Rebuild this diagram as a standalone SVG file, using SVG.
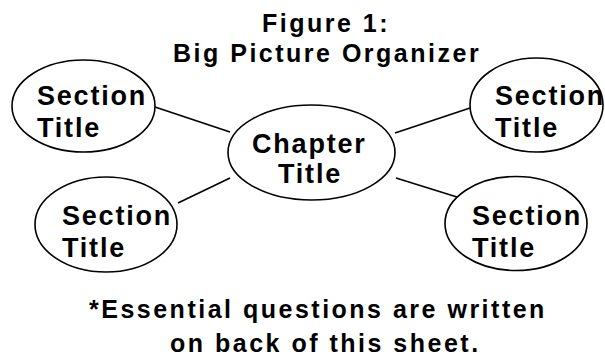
<svg xmlns="http://www.w3.org/2000/svg" width="605" height="357" viewBox="0 0 605 357">
  <style>
    .bubble { fill: #ffffff; stroke: #000000; stroke-width: 1.6; }
    .link { stroke: #000000; stroke-width: 1.6; fill: none; }
    text { font-family: "Liberation Sans", Arial, sans-serif; font-weight: bold; fill: #000000; }
    .head { font-size: 25px; letter-spacing: 2.5px; }
    .label { font-size: 27px; letter-spacing: 1.8px; }
  </style>
  <rect width="605" height="357" fill="#ffffff"/>

  <!-- heading -->
  <g id="heading">
    <text class="head" x="262" y="32">Figure 1:</text>
    <text class="head" x="173" y="62">Big Picture Organizer</text>
  </g>

  <!-- spokes from the chapter bubble to each section bubble -->
  <g id="connectors">
    <line class="link" x1="155" y1="107" x2="230" y2="132"/>
    <line class="link" x1="470" y1="108" x2="395" y2="133"/>
    <line class="link" x1="178" y1="203" x2="230" y2="178"/>
    <line class="link" x1="396" y1="178" x2="457" y2="197"/>
  </g>

  <g id="chapter">
    <ellipse class="bubble" cx="311.5" cy="152.5" rx="83.5" ry="47.5"/>
    <text class="label" x="252" y="153">Chapter</text>
    <text class="label" x="278" y="183">Title</text>
  </g>

  <g id="section-top-left">
    <ellipse class="bubble" cx="83.5" cy="106" rx="71.5" ry="46"/>
    <text class="label" x="37" y="105">Section</text>
    <text class="label" x="37" y="137">Title</text>
  </g>

  <g id="section-top-right">
    <ellipse class="bubble" cx="536.5" cy="105" rx="66.5" ry="47"/>
    <text class="label" x="495" y="105">Section</text>
    <text class="label" x="495" y="137">Title</text>
  </g>

  <g id="section-bottom-left">
    <ellipse class="bubble" cx="106" cy="224.5" rx="71" ry="47.5"/>
    <text class="label" x="62" y="225">Section</text>
    <text class="label" x="62" y="257">Title</text>
  </g>

  <g id="section-bottom-right">
    <ellipse class="bubble" cx="516" cy="223.5" rx="71" ry="47"/>
    <text class="label" x="472" y="225">Section</text>
    <text class="label" x="472" y="257">Title</text>
  </g>

  <!-- footnote -->
  <g id="footnote">
    <text class="head" x="89" y="318">*Essential questions are written</text>
    <text class="head" x="170" y="352">on back of this sheet.</text>
  </g>
</svg>
